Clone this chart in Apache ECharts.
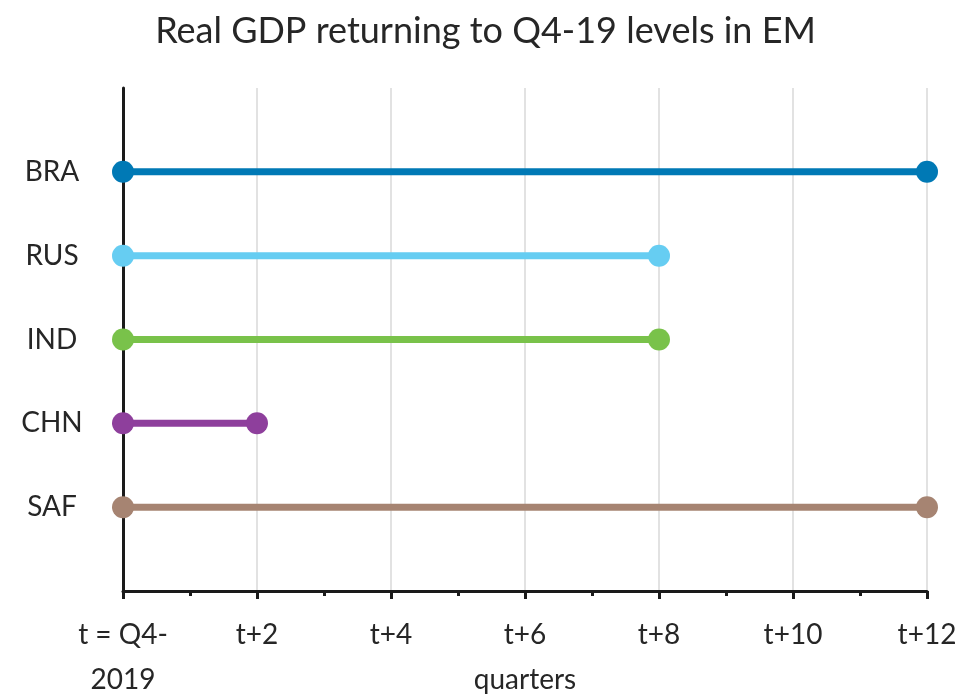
<!DOCTYPE html>
<html>
<head>
<meta charset="utf-8">
<script src="https://cdn.jsdelivr.net/npm/echarts@6/dist/echarts.min.js"></script>
<style>
  html, body { margin: 0; padding: 0; background: #ffffff; }
  #chart { width: 971px; height: 697px; }
</style>
</head>
<body>
<div id="chart"></div>
<script>
// Emerging-market economies and the number of quarters after Q4-2019
// until real GDP gets back to its pre-pandemic level.
const countries = ['BRA', 'RUS', 'IND', 'CHN', 'SAF'];
const quartersToRecover = [12, 8, 8, 2, 12];
const countryColors = ['#0079b5', '#66cdf2', '#79c24a', '#8e3f9c', '#a68472'];
const xTickLabels = ['t = Q4-\n2019', 't+2', 't+4', 't+6', 't+8', 't+10', 't+12'];

// Padding rows above and below so the bars sit inside the frame.
const yCategories = [''].concat(countries.slice().reverse(), ['']);

const FONT = 'Lato, "Open Sans", sans-serif';
const TEXT = '#262626';

const series = countries.map((c, i) => ({
  name: c,
  type: 'line',
  data: [[0, c], [quartersToRecover[i], c]],
  symbol: 'circle',
  symbolSize: 22,
  lineStyle: { width: 7, color: countryColors[i] },
  itemStyle: { color: countryColors[i] },
  z: 3,
  silent: true,
  animation: false
}));

const chart = echarts.init(document.getElementById('chart'), null, { renderer: 'canvas' });
chart.setOption({
  backgroundColor: '#ffffff',
  animation: false,
  title: {
    text: 'Real GDP returning to Q4-19 levels in EM',
    left: 'center',
    top: 8,
    textStyle: { fontFamily: FONT, fontSize: 36, fontWeight: 'normal', color: TEXT }
  },
  grid: { left: 123, right: 44, top: 88, bottom: 106, outerBoundsMode: 'none' },
  xAxis: {
    type: 'value',
    min: 0,
    max: 12,
    interval: 2,
    name: 'quarters',
    nameLocation: 'middle',
    nameGap: 89,
    nameMoveOverlap: false,
    nameTextStyle: { fontFamily: FONT, fontSize: 28, color: TEXT, verticalAlign: 'middle' },
    axisLine: { show: true, onZero: false, lineStyle: { color: '#1a1a1a', width: 3 } },
    axisTick: { show: true, length: 8, lineStyle: { color: '#1a1a1a', width: 3 } },
    minorTick: { show: true, splitNumber: 2, length: 5, lineStyle: { color: '#1a1a1a', width: 3 } },
    axisLabel: {
      margin: 21,
      fontFamily: FONT,
      fontSize: 28,
      color: TEXT,
      lineHeight: 45,
      verticalAlign: 'top',
      formatter: (v) => xTickLabels[Math.round(v / 2)]
    },
    splitLine: { show: true, lineStyle: { color: '#d9d9d9', width: 1.5 } }
  },
  yAxis: {
    type: 'category',
    data: yCategories,
    boundaryGap: false,
    axisLine: { show: true, lineStyle: { color: '#1a1a1a', width: 3 } },
    axisTick: { show: false },
    splitLine: { show: false },
    axisLabel: {
      margin: 71,
      align: 'center',
      fontFamily: FONT,
      fontSize: 28,
      color: TEXT
    }
  },
  series: series
});
</script>
</body>
</html>
